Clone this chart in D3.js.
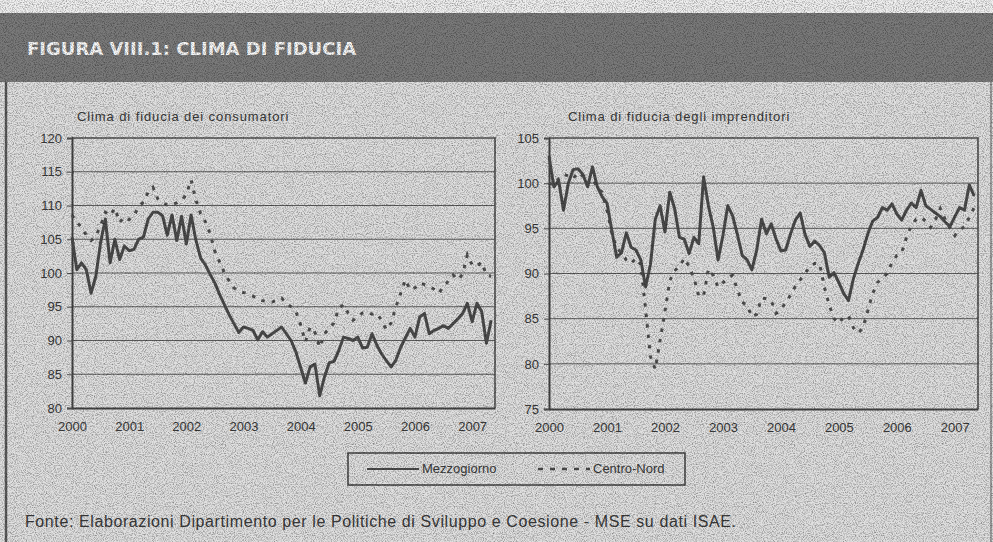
<!DOCTYPE html>
<html>
<head>
<meta charset="utf-8">
<script src="https://cdn.jsdelivr.net/npm/d3@7"></script>
<style>
  html, body { margin: 0; padding: 0; background: #ececec; }
  svg { display: block; }
  text { font-family: "Liberation Sans", Arial, sans-serif; fill: #3a3a3a; }
</style>
</head>
<body>
<svg id="chart" width="993" height="542"></svg>
<script>
// year labels, one every 12 months (Jan 2000 .. May 2007)
const years = ["2000", "2001", "2002", "2003", "2004", "2005", "2006", "2007"];
const seriesNames = ["Mezzogiorno", "Centro-Nord"];

// clima di fiducia dei consumatori
const consMezzogiorno = [
  105.3, 100.5, 101.5, 100.5, 97.0, 99.5, 104.5, 108.0, 101.5, 105.0, 102.0, 104.0,
  103.3, 103.5, 105.0, 105.3, 108.0, 109.0, 109.0, 108.5, 105.6, 108.6, 104.8, 108.4,
  104.3, 108.6, 104.9, 102.2, 101.2, 99.8, 98.5, 96.8, 95.3, 93.8, 92.5, 91.2,
  92.0, 91.8, 91.5, 90.1, 91.3, 90.5, 91.0, 91.5, 92.0, 91.0, 90.0, 88.3,
  86.0, 83.7, 86.1, 86.5, 81.8, 84.6, 86.7, 86.9, 88.5, 90.5, 90.3, 90.0,
  90.5, 88.9, 89.0, 91.0, 89.3, 88.0, 87.0, 86.1, 87.1, 89.0, 90.4, 91.8,
  90.5, 93.5, 94.0, 91.0, 91.5, 91.8, 92.2, 91.8, 92.5, 93.2, 94.0, 95.5,
  92.8, 95.5, 94.3, 89.6, 93.0
];
const consCentroNord = [
  108.6, 107.5, 106.8, 105.6, 104.8, 105.5, 107.0, 109.0, 108.5, 109.6, 107.5, 108.3,
  107.9, 108.5, 109.8, 110.5, 112.0, 112.7, 111.0, 110.4, 110.1, 110.1, 110.4, 110.8,
  111.6, 113.8, 110.8, 108.8, 107.6, 105.8, 103.2, 101.6, 100.0, 98.8, 97.8, 97.3,
  97.1, 96.9, 96.6, 96.1, 95.9, 95.8, 95.7, 96.0, 96.3, 95.5, 95.0, 94.3,
  92.3, 89.8, 92.0, 91.2, 89.0, 91.0, 91.8, 92.6, 94.8, 95.3, 94.0, 93.0,
  93.5, 94.1, 94.2, 93.9, 94.0, 93.0, 91.6, 92.6, 95.0, 97.0, 99.0, 97.5,
  97.8, 98.5, 98.3, 98.0, 97.6, 97.0, 98.0, 98.8, 99.7, 99.0, 99.8, 102.7,
  101.2, 101.0, 101.6, 99.7, 99.5
];

// clima di fiducia degli imprenditori
const impMezzogiorno = [
  103.0, 99.6, 100.3, 97.0, 100.0, 101.5, 101.6, 101.0, 99.6, 101.8, 99.6, 98.5,
  97.8, 94.8, 91.8, 92.3, 94.5, 92.9, 92.6, 91.5, 88.5, 91.0, 96.0, 97.5,
  94.6, 99.0, 97.2, 94.0, 93.8, 92.2, 94.0, 93.3, 100.7, 97.5, 95.1, 91.5,
  94.2, 97.5, 96.4, 94.3, 92.0, 91.5, 90.4, 92.6, 96.0, 94.4, 95.5, 93.8,
  92.5, 92.6, 94.4, 95.9, 96.7, 94.3, 93.0, 93.6, 93.1, 92.3, 89.6, 90.1,
  89.0, 87.8, 87.0, 89.4, 91.1, 92.6, 94.4, 95.8, 96.2, 97.3, 97.0, 97.7,
  96.6, 95.9, 97.0, 97.8, 97.3, 99.2, 97.5, 97.1, 96.7, 96.3, 95.7, 95.2,
  96.3, 97.3, 97.0, 99.8, 98.6
];
const impCentroNord = [
  100.0, 99.8, 100.5, 101.0, 100.8, 100.5, 101.2, 100.8, 100.0, 100.5, 99.5, 99.0,
  97.0, 94.5, 92.8, 92.3, 91.5, 91.1, 91.7, 91.0, 86.0, 80.8, 79.4, 82.6,
  85.8, 89.2, 90.3, 90.8, 91.7, 90.8, 89.5, 87.5, 87.5, 90.5, 89.8, 88.5,
  89.0, 89.5, 89.8, 88.2, 86.8, 86.5, 85.2, 85.5, 87.3, 87.2, 87.0, 85.6,
  86.0, 86.8, 87.6, 88.6, 89.3, 90.0, 90.8, 91.1, 91.1, 88.5, 86.5, 85.0,
  84.5, 85.2, 85.3, 84.0, 83.4, 84.0, 85.9, 87.8, 89.0, 89.5, 90.0, 91.2,
  92.0, 92.3, 94.0, 95.3, 96.0, 96.2, 95.8, 95.1, 96.0, 97.2, 96.0, 95.0,
  94.2, 94.8, 95.2, 96.2, 97.3
];

const consTicks = [80, 85, 90, 95, 100, 105, 110, 115, 120];
const impTicks = [75, 80, 85, 90, 95, 100, 105];

const W = 993, H = 542;
const svg = d3.select("#chart");

// grain filter to imitate the scanned page
const defs = svg.append("defs");
const grain = defs.append("filter").attr("id", "grain")
    .attr("x", 0).attr("y", 0).attr("width", "100%").attr("height", "100%");
grain.append("feTurbulence")
    .attr("type", "fractalNoise")
    .attr("baseFrequency", 0.9)
    .attr("numOctaves", 2)
    .attr("seed", 7);
grain.append("feColorMatrix")
    .attr("type", "matrix")
    .attr("values", "0 0 0 0 0  0 0 0 0 0  0 0 0 0 0  0.9 0 0 0 -0.37");

// page
svg.append("rect").attr("width", W).attr("height", H).attr("fill", "#f0f0f0");
svg.append("rect").attr("x", 0).attr("y", 82).attr("width", W).attr("height", H - 82)
    .attr("fill", "#e0e0e0");
svg.append("rect").attr("x", 0).attr("y", 13).attr("width", W).attr("height", 69)
    .attr("fill", "#7a7a7a");
svg.append("text")
    .attr("x", 27).attr("y", 55)
    .style("font-family", "'DejaVu Sans', sans-serif")
    .style("font-weight", "bold")
    .style("font-size", "18px")
    .style("fill", "#f8f8f8")
    .text("FIGURA VIII.1: CLIMA DI FIDUCIA");

// frame sides
svg.append("line").attr("x1", 6).attr("x2", 6).attr("y1", 82).attr("y2", H)
    .attr("stroke", "#5a5a5a").attr("stroke-width", 2.5);
svg.append("line").attr("x1", 991).attr("x2", 991).attr("y1", 82).attr("y2", H)
    .attr("stroke", "#8a8a8a").attr("stroke-width", 1.5);

const solidColor = "#4c4c4c", dotColor = "#505050";

function drawPanel(cfg) {
    const g = svg.append("g");
    const x = d3.scaleLinear().domain([0, 88.8]).range([cfg.left, cfg.right]);
    const y = d3.scaleLinear().domain(cfg.yDomain).range([cfg.bottom, cfg.top]);

    g.append("text")
        .attr("x", cfg.titleX).attr("y", 121)
        .style("font-size", "13px")
        .style("letter-spacing", "0.9px")
        .text(cfg.title);

    // gridlines
    g.append("g").selectAll("line")
        .data(cfg.ticks.slice(1, -1))
        .join("line")
        .attr("x1", cfg.left).attr("x2", cfg.right)
        .attr("y1", d => y(d)).attr("y2", d => y(d))
        .attr("stroke", "#5e5e5e").attr("stroke-width", 1);

    // plot frame: top and right
    g.append("path")
        .attr("d", `M${cfg.left},${cfg.top}H${cfg.right}V${cfg.bottom}`)
        .attr("fill", "none").attr("stroke", "#505050").attr("stroke-width", 1.6);

    // y axis
    const yAxis = g.append("g")
        .attr("transform", `translate(${cfg.left},0)`)
        .call(d3.axisLeft(y).tickValues(cfg.ticks).tickSize(5).tickPadding(5));
    yAxis.select(".domain").attr("stroke", "#444").attr("stroke-width", 2);
    yAxis.selectAll(".tick line").attr("stroke", "#555");
    yAxis.selectAll("text")
        .style("font-size", "13px")
        .style("font-family", "'Liberation Sans', Arial, sans-serif")
        .attr("fill", "#3a3a3a");

    // x axis
    const xAxis = g.append("g")
        .attr("transform", `translate(0,${cfg.bottom})`)
        .call(d3.axisBottom(x)
            .tickValues(d3.range(0, 89, 12))
            .tickFormat((d, i) => years[i])
            .tickSize(0).tickPadding(14));
    xAxis.select(".domain").attr("stroke", "#444").attr("stroke-width", 2.2);
    xAxis.selectAll("text")
        .style("font-size", "13px")
        .style("font-family", "'Liberation Sans', Arial, sans-serif")
        .attr("fill", "#3a3a3a");

    const line = d3.line().x((d, i) => x(i)).y(d => y(d));

    g.append("path")
        .datum(cfg.centroNord)
        .attr("d", line)
        .attr("fill", "none")
        .attr("stroke", dotColor)
        .attr("stroke-width", 3)
        .attr("stroke-dasharray", "3.5,7");

    g.append("path")
        .datum(cfg.mezzogiorno)
        .attr("d", line)
        .attr("fill", "none")
        .attr("stroke", solidColor)
        .attr("stroke-width", 3)
        .attr("stroke-linejoin", "round");
}

drawPanel({
    title: "Clima di fiducia dei consumatori",
    titleX: 77,
    left: 72, right: 495, top: 138, bottom: 408,
    yDomain: [80, 120], ticks: consTicks,
    mezzogiorno: consMezzogiorno, centroNord: consCentroNord
});

drawPanel({
    title: "Clima di fiducia degli imprenditori",
    titleX: 568,
    left: 549, right: 978, top: 138, bottom: 409,
    yDomain: [75, 105], ticks: impTicks,
    mezzogiorno: impMezzogiorno, centroNord: impCentroNord
});

// legend
const legend = svg.append("g");
legend.append("rect")
    .attr("x", 348).attr("y", 453).attr("width", 337).attr("height", 32)
    .attr("fill", "none").attr("stroke", "#4a4a4a").attr("stroke-width", 1.6);
const items = [
    { name: seriesNames[0], x: 367, dash: null },
    { name: seriesNames[1], x: 538, dash: "5,7" }
];
items.forEach(it => {
    legend.append("line")
        .attr("x1", it.x).attr("x2", it.x + 52)
        .attr("y1", 469).attr("y2", 469)
        .attr("stroke", solidColor)
        .attr("stroke-width", it.dash ? 2.5 : 2)
        .attr("stroke-dasharray", it.dash);
    legend.append("text")
        .attr("x", it.x + 55).attr("y", 473)
        .style("font-size", "13px")
        .text(it.name);
});

// source
svg.append("text")
    .attr("x", 25).attr("y", 527)
    .style("font-size", "16px")
    .style("letter-spacing", "0.6px")
    .attr("fill", "#333")
    .text("Fonte: Elaborazioni Dipartimento per le Politiche di Sviluppo e Coesione - MSE su dati ISAE.");

// grain overlay
svg.append("rect")
    .attr("width", W).attr("height", H)
    .attr("filter", "url(#grain)")
    .style("pointer-events", "none");
</script>
</body>
</html>
